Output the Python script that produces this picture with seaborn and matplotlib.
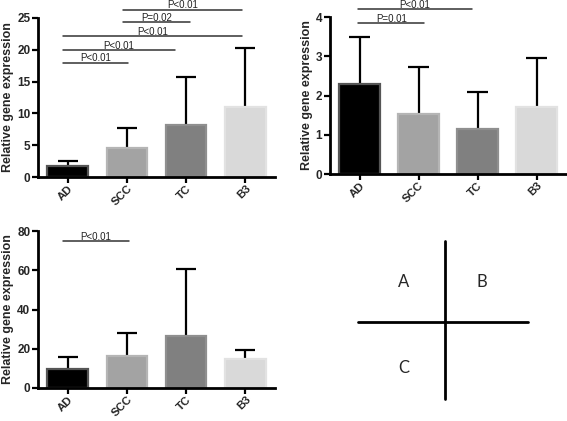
import matplotlib
matplotlib.use("Agg")
import matplotlib.pyplot as plt
import seaborn as sns
import numpy as np
import pandas as pd
from matplotlib.lines import Line2D

# ---- data ----
categories = ["AD", "SCC", "TC", "B3"]
colors = ["#000000", "#a3a3a3", "#808080", "#d9d9d9"]
edges = ["#555555", "#b5b5b5", "#8f8f8f", "#e2e2e2"]

a_mean = [1.7, 4.5, 8.1, 11.0]
a_upper = [2.5, 7.7, 15.8, 20.3]
a_ticks = [0, 5, 10, 15, 20, 25]
a_sig = [(-0.07, 1.02, 18.0, "P<0.01"),
         (-0.07, 1.81, 20.0, "P<0.01"),
         (-0.07, 2.94, 22.2, "P<0.01"),
         (0.94, 2.06, 24.4, "P=0.02"),
         (0.93, 2.94, 26.3, "P<0.01")]

b_mean = [2.3, 1.53, 1.15, 1.7]
b_upper = [3.5, 2.72, 2.1, 2.95]
b_ticks = [0, 1, 2, 3, 4]
b_sig = [(-0.02, 1.1, 3.84, "P=0.01"),
         (-0.02, 1.9, 4.2, "P<0.01")]

c_mean = [9.5, 16.5, 26.7, 14.7]
c_upper = [15.8, 28.0, 60.7, 19.5]
c_ticks = [0, 20, 40, 60, 80]
c_sig = [(-0.07, 1.03, 75.0, "P<0.01")]

quad_labels = ["A", "B", "C"]

sns.set_theme(style="ticks")
plt.rcParams["font.family"] = ["Liberation Sans", "DejaVu Sans"]

W, H = 567, 421
fig = plt.figure(figsize=(W / 100, H / 100), dpi=100)


def px_axes(l, t, r, b):
    return fig.add_axes([l / W, 1 - b / H, (r - l) / W, (b - t) / H])


def panel(ax, means, upper, ticks, sig):
    df = pd.DataFrame({"cat": categories, "val": means})
    m = np.array(means)
    u = np.array(upper)
    x = np.arange(len(m))
    # upper error bars (drawn first, bars cover the base)
    ax.vlines(x, m, u, color="black", lw=1.6, zorder=1)
    ax.hlines(u, x - 0.17, x + 0.17, color="black", lw=1.6, zorder=1)
    sns.barplot(data=df, x="cat", y="val", hue="cat", palette=colors,
                legend=False, errorbar=None, width=0.68, ax=ax,
                saturation=1, linewidth=1.6, zorder=2)
    for p, ec in zip(ax.patches, edges):
        p.set_edgecolor(ec)
    ax.set_xlim(-0.5, 3.5)
    ax.set_ylim(0, ticks[-1])
    ax.set_yticks(ticks)
    ax.set_xlabel("")
    ax.set_ylabel("Relative gene expression", fontsize=9, fontweight="bold",
                  labelpad=2)
    ax.tick_params(axis="both", direction="out", length=4, width=1.6,
                   labelsize=8.5, pad=1.5, color="black")
    ax.tick_params(axis="x", labelsize=8.2, pad=0.5)
    for lab in ax.get_xticklabels():
        lab.set_rotation(45)
        lab.set_ha("right")
        lab.set_rotation_mode("anchor")
        lab.set_fontweight("bold")
    for lab in ax.get_yticklabels():
        lab.set_fontweight("bold")
    sns.despine(ax=ax)
    for s in ["left", "bottom"]:
        ax.spines[s].set_linewidth(2)
        ax.spines[s].set_color("black")
    span = ticks[-1]
    for x1, x2, y, lab in sig:
        ax.plot([x1, x2], [y, y], color="#333333", lw=1.1, clip_on=False)
        ax.text((x1 + x2) / 2, y + span * 0.008, lab, ha="center",
                va="baseline", fontsize=7, color="#222222", clip_on=False)


axA = px_axes(38, 18, 275, 177)
panel(axA, a_mean, a_upper, a_ticks, a_sig)
axB = px_axes(330, 17, 566, 174)
panel(axB, b_mean, b_upper, b_ticks, b_sig)
axC = px_axes(38, 231, 275, 388)
panel(axC, c_mean, c_upper, c_ticks, c_sig)

# quadrant sketch
fig.add_artist(Line2D([445 / W, 445 / W], [1 - 241 / H, 1 - 399 / H],
                      color="black", lw=2))
fig.add_artist(Line2D([358 / W, 528 / W], [1 - 322 / H, 1 - 322 / H],
                      color="black", lw=2))
for lab, (x, y) in zip(quad_labels, [(404, 282), (482, 282), (404, 368)]):
    fig.text(x / W, 1 - y / H, lab, ha="center", va="center", fontsize=12,
             family=["Lato", "DejaVu Sans"])

fig.savefig("out.png", dpi=100)
